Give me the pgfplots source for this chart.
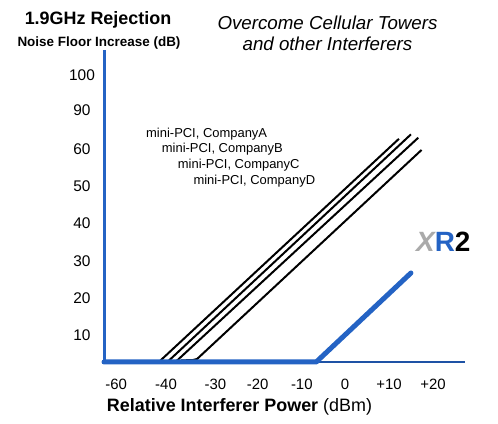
\documentclass[border=0pt]{standalone}
\usepackage{pgfplots}
\pgfplotsset{compat=1.18}
\usepackage{fontspec}
\setmainfont{Liberation Sans}
\definecolor{xblue}{RGB}{36,99,196}
\definecolor{xdark}{RGB}{30,82,165}
\definecolor{xgray}{RGB}{170,170,170}
\begin{document}
\begin{tikzpicture}
\path[use as bounding box] (0,0) rectangle (498bp,424bp);
\begin{axis}[
  at={(104bp,62bp)}, anchor=south west,
  scale only axis, width=361bp, height=312bp,
  xmin=-53.6, xmax=26.7, ymin=0, ymax=84.3,
  axis x line=bottom, axis y line=left,
  x axis line style={draw=xdark, line width=2bp, -},
  y axis line style={draw=xblue, line width=3bp, -},
  major tick length=0pt,
  xtick={-50.9,-39.8,-28.8,-19.4,-9.6,0,9.8,19.6},
  xticklabels={-60,-40,-30,-20,-10,0,+10,+20},
  ytick={7.3,17.3,27.3,37.6,47.6,57.6,68.0,77.6},
  yticklabels={10,20,30,40,50,60,90,100},
  /pgf/number format/assume math mode=true,
  xticklabel style={anchor=center, yshift=-22bp, font=\fontsize{15}{15}\selectfont},
  yticklabel style={anchor=center, xshift=-22bp, font=\fontsize{15.5}{15.5}\selectfont},
  clip=false,
]
\addplot[black, line width=2bp] coordinates {(-41.4,0) (12.0,60.3)};
\addplot[black, line width=2bp] coordinates {(-39.5,0) (14.67,61.5)};
\addplot[black, line width=2bp] coordinates {(-37.7,0) (16.3,60.6)};
\addplot[black, line width=2bp, line join=round] coordinates {(-36.5,0.4) (-35.6,0.46) (-33.8,0.54) (-32.9,0.81) (-32.3,1.49) (17.04,57.3)};
\addplot[xblue, line width=5bp, line cap=round, line join=round] coordinates {(-53.6,0) (-6.4,0) (14.67,24.05)};
\end{axis}
% titles and labels
\node[anchor=base, font=\fontsize{18}{18}\selectfont\bfseries] at (98bp,399bp) {1.9GHz Rejection};
\node[anchor=base, font=\fontsize{13.5}{13.5}\selectfont\bfseries] at (99bp,377.3bp) {Noise Floor Increase (dB)};
\node[anchor=base, font=\fontsize{18.8}{18.8}\selectfont\itshape] at (327.5bp,394bp) {Overcome Cellular Towers};
\node[anchor=base, font=\fontsize{18.8}{18.8}\selectfont\itshape] at (327.5bp,373bp) {and other Interferers};
\node[anchor=center, font=\fontsize{18}{18}\selectfont] at (239.5bp,17bp) {\textbf{Relative Interferer Power} (dBm)};
\node[anchor=base west, inner sep=0pt, font=\fontsize{13}{13}\selectfont] at (146bp,286.7bp) {mini-PCI, CompanyA};
\node[anchor=base west, inner sep=0pt, font=\fontsize{13}{13}\selectfont] at (161.7bp,271bp) {mini-PCI, CompanyB};
\node[anchor=base west, inner sep=0pt, font=\fontsize{13}{13}\selectfont] at (177.7bp,255bp) {mini-PCI, CompanyC};
\node[anchor=base west, inner sep=0pt, font=\fontsize{13}{13}\selectfont] at (193.3bp,239.3bp) {mini-PCI, CompanyD};
\node[anchor=base west, inner sep=0pt, font=\fontsize{28}{28}\selectfont\bfseries] at (416bp,172bp) {\textcolor{xgray}{\itshape X}\textcolor{xblue}{R}2};
\end{tikzpicture}
\end{document}
